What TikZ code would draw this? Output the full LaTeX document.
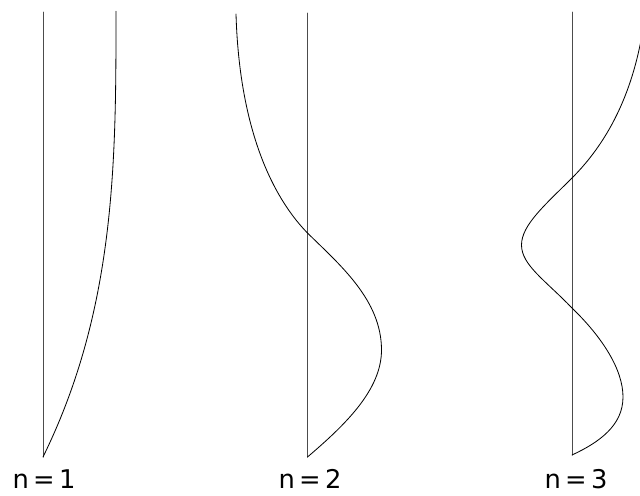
\documentclass[tikz,border=0pt]{standalone}
\usepackage{fontspec}
\setmainfont{DejaVu Sans}
\begin{document}
\begin{tikzpicture}[x=0.03cm, y=-0.03cm, line cap=round, line join=round]
  \useasboundingbox (0,0) rectangle (640,495);
  \clip (0,0) rectangle (640,495);
  \tikzset{
    axis/.style={draw=black!70, line width=0.85pt},
    mode/.style={draw=black, line width=0.7pt},
    lbl/.style={font=\fontsize{22}{24}\selectfont, inner sep=0pt}
  }

  % Columns: top and bottom of each rod
  \coordinate (T1) at (43, 12);   \coordinate (B1) at (43, 457);
  \coordinate (T2) at (307.5, 13); \coordinate (B2) at (307.5, 457);
  \coordinate (T3) at (572, 12);  \coordinate (B3) at (572, 455);

  \draw[axis] (T1) -- (B1);
  \draw[axis] (T2) -- (B2);
  \draw[axis] (T3) -- (B3);

  % n = 1: x = 43 + 73*(1-(1-s)^3)
  \draw[mode] plot[domain=0:1, samples=60, variable=\s]
    ({43 + 73*(1-(1-\s)^3)}, {457 - 446*\s});

  % n = 2
  \draw[mode] (B2) .. controls (345, 425) and (381.5, 390) .. (381.5, 350)
    .. controls (381.5, 300) and (340, 265) .. (307.5, 233)
    .. controls (285, 210) and (240, 150) .. (236, 14);

  % n = 3
  \draw[mode] (B3) .. controls (600, 442) and (623, 425) .. (623, 397)
    .. controls (623, 370) and (603, 338) .. (572, 308)
    .. controls (545, 280) and (521.5, 265) .. (521.5, 245)
    .. controls (521.5, 225) and (545, 205) .. (572, 178)
    .. controls (605, 145) and (635, 95) .. (645, 15);

  % Labels
  \node[lbl] (n1) at (44, 479) {n\,=\,1};
  \node[lbl] (n2) at (310, 479) {n\,=\,2};
  \node[lbl] (n3) at (576, 479) {n\,=\,3};
\end{tikzpicture}
\end{document}
